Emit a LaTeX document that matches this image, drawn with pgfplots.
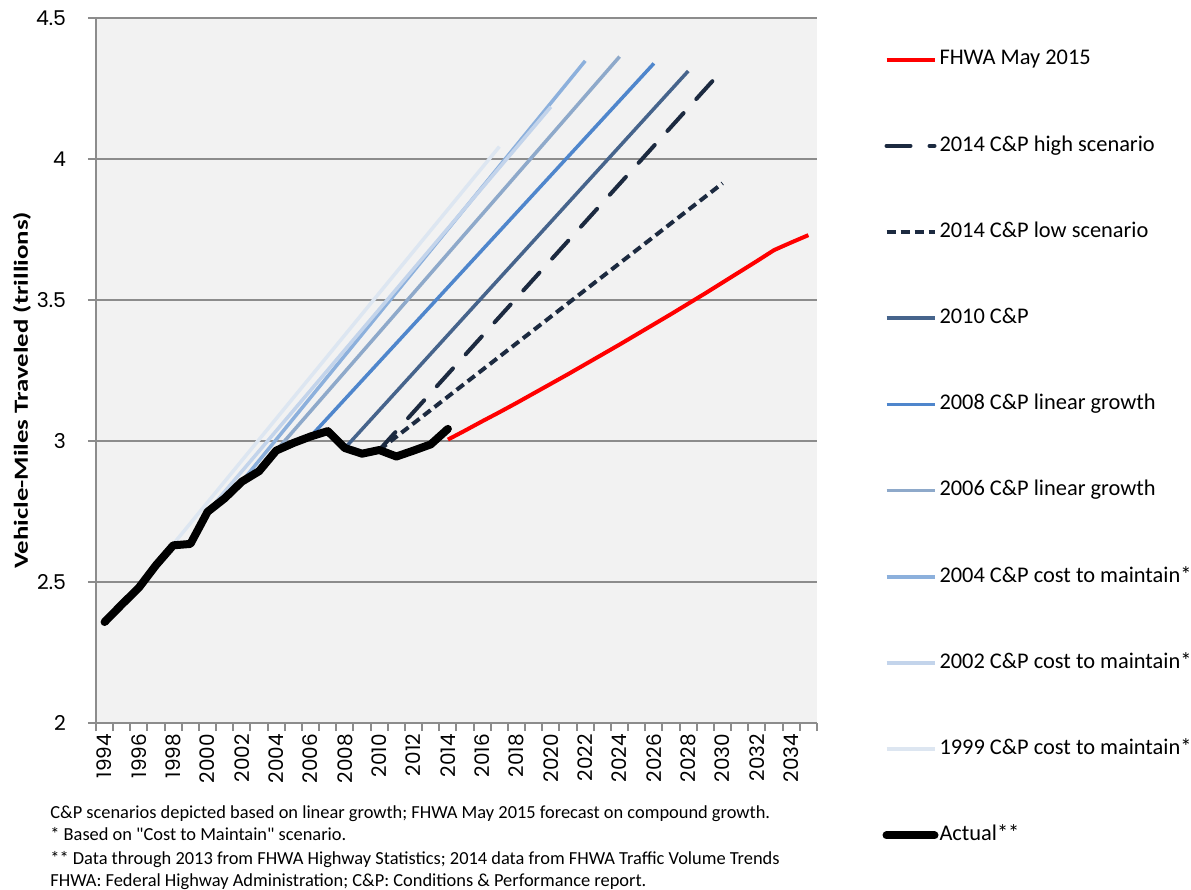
\documentclass[border=0pt]{standalone}
\usepackage{fontspec}
\setmainfont{Carlito}
\newfontfamily\tickfont{Poppins}
\usepackage{pgfplots}
\pgfplotsset{compat=1.18}

\definecolor{bgc}{HTML}{F2F2F2}
\definecolor{gridc}{HTML}{8C8C8C}
\definecolor{navy}{HTML}{1C2A40}
\definecolor{c2010}{HTML}{46648C}
\definecolor{c2008}{HTML}{4F86CC}
\definecolor{c2006}{HTML}{8EA9CA}
\definecolor{c2004}{HTML}{8CB0DC}
\definecolor{c2002}{HTML}{C3D4EB}
\definecolor{c1999}{HTML}{DDE6F1}

\begin{document}
\begin{tikzpicture}
\useasboundingbox (-48pt,-83.5pt) rectangle (547.5pt,361.5pt);
\begin{axis}[
  at={(0,0)}, anchor=south west,
  scale only axis, width=360.5pt, height=352.5pt,
  xmin=1993.5, xmax=2035.5, ymin=2, ymax=4.5,
  enlargelimits=false, no markers,
  axis background/.style={fill=bgc},
  axis y line*=left, axis x line*=bottom,
  axis line style={gridc, line width=1pt, -},
  ytick={2,2.5,3,3.5,4,4.5},
  ymajorgrids, major grid style={gridc, line width=1pt},
  tick align=outside, major tick length=4pt,
  tick style={gridc, line width=1pt},
  xtick={1993.5,1994.5,...,2035.5}, xticklabels={},
  extra x ticks={1994,1996,...,2034},
  extra x tick labels={1994,1996,1998,2000,2002,2004,2006,2008,2010,2012,2014,2016,2018,2020,2022,2024,2026,2028,2030,2032,2034},
  extra x tick style={major tick length=0pt, grid=none,
    tick label style={yshift=-2pt, rotate=90, anchor=east}},
  xticklabel style={font=\tickfont\fontsize{10}{12}\selectfont},
  /pgf/number format/assume math mode=true,
  yticklabel style={font=\tickfont\fontsize{10.2}{12}\selectfont, xshift=-7.5pt},
  ylabel={Vehicle-Miles Traveled (trillions)},
  ylabel style={font=\bfseries\fontsize{10}{12}\selectfont,
    at={(axis description cs:-0.1026,0.472)}, anchor=center, xscale=1.34},
  legend style={draw=none, fill=none, at={(axis description cs:1.082,0.961)},
    anchor=north west, font=\fontsize{11.2}{13}\selectfont, row sep=33.4pt,
    nodes={inner sep=0pt, text height=7.5pt, text depth=2.2pt},
    /tikz/every odd column/.append style={column sep=0.5pt}},
  legend cell align=left,
  legend image code/.code={\draw[#1] (0pt,0pt) -- (24pt,0pt);},
]
% FHWA May 2015 forecast
\addplot[red, line width=2pt, line join=round] table {
x y
2014 3.005
2015 3.037
2016 3.070
2017 3.102
2018 3.135
2019 3.169
2020 3.203
2021 3.237
2022 3.272
2023 3.307
2024 3.342
2025 3.378
2026 3.414
2027 3.450
2028 3.487
2029 3.524
2030 3.562
2031 3.600
2032 3.638
2033 3.677
2034 3.704
2035 3.730
};
\addlegendentry{FHWA May 2015}
\addplot[navy, line width=2pt, line cap=round, dash pattern=on 12pt off 9.5pt]
  coordinates {(2010,2.968) (2030,4.316)};
\addlegendentry{2014 C\&P high scenario}
\addplot[navy, line width=2pt, dash pattern=on 4.5pt off 2.5pt]
  coordinates {(2010,2.968) (2030,3.914)};
\addlegendentry{2014 C\&P low scenario}
\addplot[c2010, line width=1.75pt] coordinates {(2008,2.975) (2028,4.312)};
\addlegendentry{2010 C\&P}
\addplot[c2008, line width=1.75pt] coordinates {(2006,3.016) (2026,4.339)};
\addlegendentry{2008 C\&P linear growth}
\addplot[c2006, line width=1.75pt] coordinates {(2004,2.966) (2024,4.363)};
\addlegendentry{2006 C\&P linear growth}
\addplot[c2004, line width=1.75pt] coordinates {(2002,2.856) (2022,4.348)};
\addlegendentry{2004 C\&P cost to maintain*}
\addplot[c2002, line width=1.75pt] coordinates {(2000,2.749) (2020,4.185)};
\addlegendentry{2002 C\&P cost to maintain*}
\addplot[c1999, line width=1.75pt] coordinates {(1997,2.560) (2017,4.044)};
\addlegendentry{1999 C\&P cost to maintain*}
% actual VMT
\addplot[black, line width=4pt, line join=round, line cap=round] table {
x y
1994 2.358
1995 2.420
1996 2.480
1997 2.560
1998 2.630
1999 2.635
2000 2.749
2001 2.797
2002 2.856
2003 2.893
2004 2.966
2005 2.993
2006 3.016
2007 3.035
2008 2.975
2009 2.955
2010 2.968
2011 2.945
2012 2.966
2013 2.988
2014 3.043
};
\addlegendentry{Actual**}
\end{axis}
\begin{scope}[every node/.style={anchor=base west, inner sep=0pt, font=\fontsize{9.2}{11}\selectfont}]
\node at (-23pt,-48pt) {C\&P scenarios depicted based on linear growth; FHWA May 2015 forecast on compound growth.};
\node at (-23pt,-59pt) {* Based on \textquotedbl Cost to Maintain\textquotedbl\ scenario.};
\node at (-23pt,-70.5pt) {** Data through 2013 from FHWA Highway Statistics; 2014 data from FHWA Traffic Volume Trends};
\node at (-23pt,-81.5pt) {FHWA: Federal Highway Administration; C\&P: Conditions \& Performance report.};
\end{scope}
\end{tikzpicture}
\end{document}
